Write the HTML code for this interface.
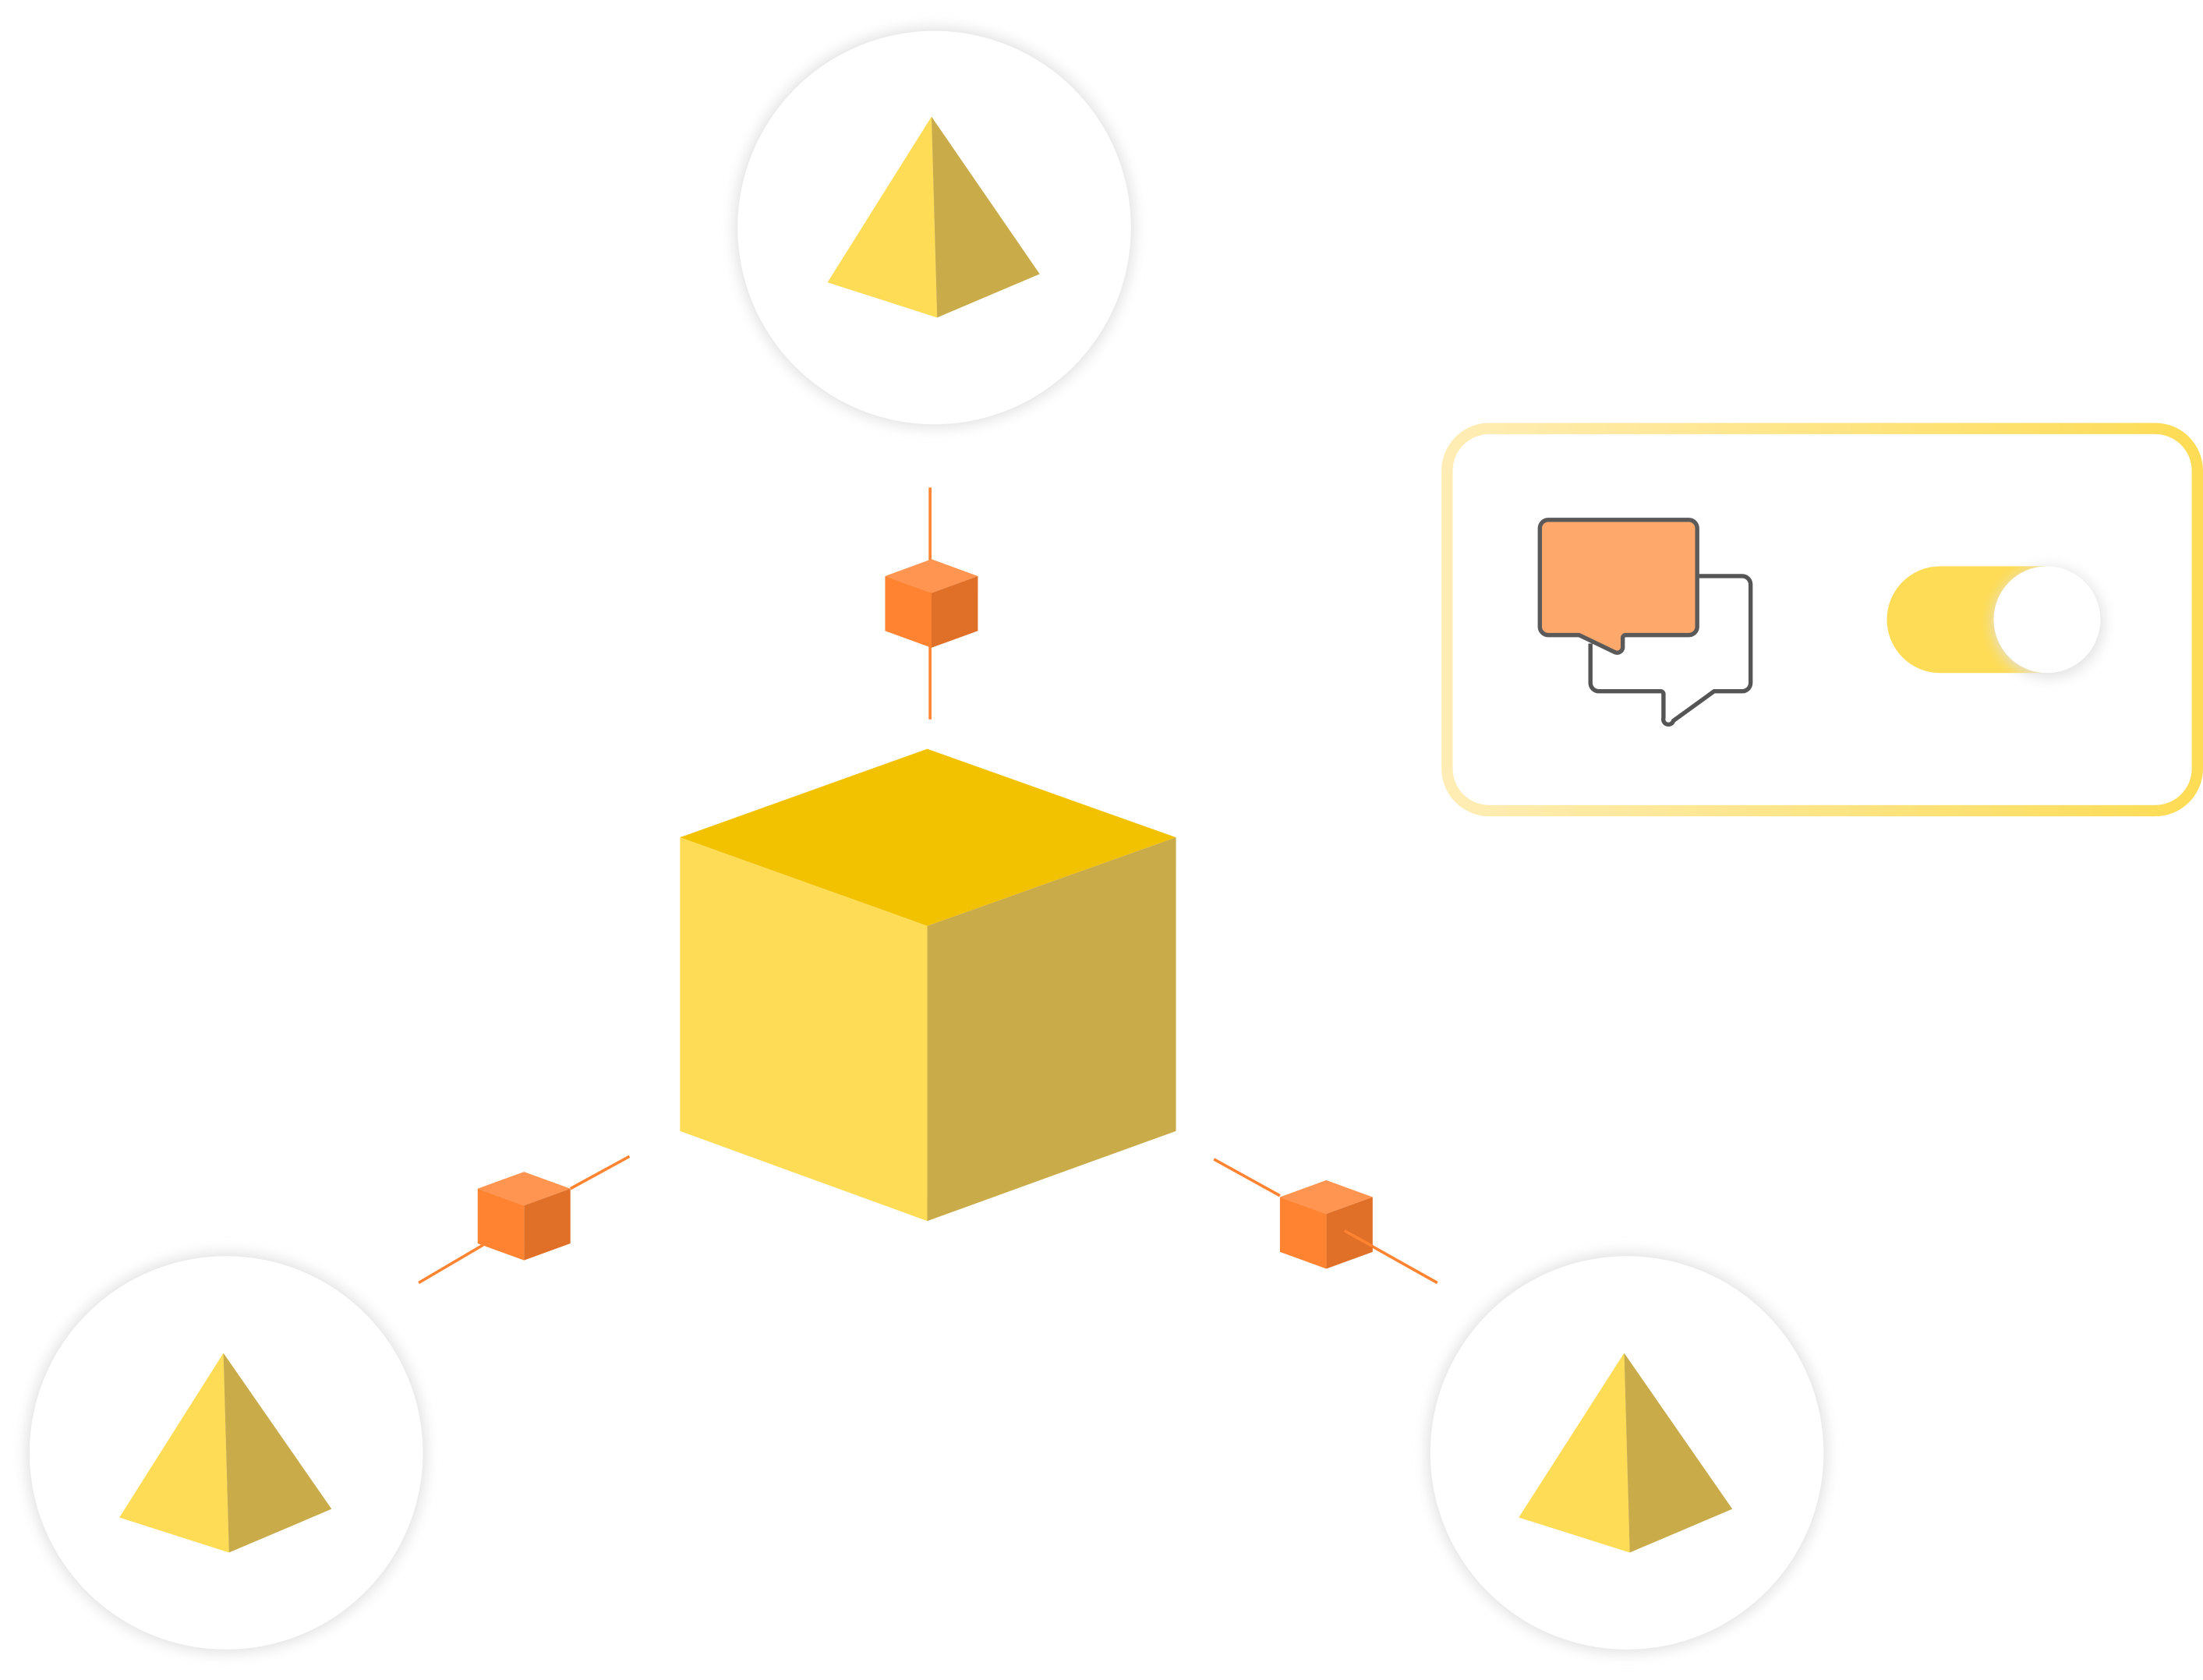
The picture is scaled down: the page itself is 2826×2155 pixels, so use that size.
<!DOCTYPE html>
<html><head><meta charset="utf-8"><style>
html,body{margin:0;padding:0;background:#fff;}
svg{display:block;width:2826px;height:2155px;}
</style></head><body>
<svg viewBox="0 0 1568 1195.7" preserveAspectRatio="none" xmlns="http://www.w3.org/2000/svg">
<defs>
<filter id="sh" x="-20%" y="-20%" width="140%" height="140%"><feGaussianBlur stdDeviation="5"/></filter>
<linearGradient id="bd" x1="0" x2="1" y1="0" y2="0"><stop offset="0" stop-color="#FFEDB5"/><stop offset="1" stop-color="#FEDC55"/></linearGradient>
</defs>
<g>
<circle cx="665" cy="162" r="142" fill="#e0e0e0" filter="url(#sh)"/>
<circle cx="665" cy="162" r="140" fill="#fff"/>
<circle cx="161" cy="1034" r="142" fill="#e0e0e0" filter="url(#sh)"/>
<circle cx="161" cy="1034" r="140" fill="#fff"/>
<circle cx="1158" cy="1034" r="142" fill="#e0e0e0" filter="url(#sh)"/>
<circle cx="1158" cy="1034" r="140" fill="#fff"/>
</g>
<polygon points="663,83 589,201 667,226" fill="#FEDC55"/><polygon points="663,83 667,226 740,195" fill="#C9AB4A"/>
<polygon points="159,963 85,1080 163,1105" fill="#FEDC55"/><polygon points="159,963 163,1105 236,1074" fill="#C9AB4A"/>
<polygon points="1156,963 1081,1080 1160,1105" fill="#FEDC55"/><polygon points="1156,963 1160,1105 1233,1074" fill="#C9AB4A"/>
<polygon points="484,596 660,533 837,596 660,659" fill="#F2C200"/>
<polygon points="484,596 660,659 660,869 484,805" fill="#FEDC55"/>
<polygon points="660,659 837,596 837,805 660,869" fill="#C9AB4A"/>
<g stroke="#FF8330" stroke-width="2">
<line x1="662" y1="347" x2="662" y2="512"/>
<line x1="298" y1="913" x2="344" y2="886"/>
<line x1="406" y1="846" x2="448" y2="823"/>
<line x1="864" y1="825" x2="911" y2="851"/>
<line x1="957" y1="876" x2="1023" y2="913"/>
</g>
<g>
<polygon points="630,410 663,398 696,410 663,422" fill="#FF9550"/>
<polygon points="630,410 663,422 663,461 630,449" fill="#FF8330"/>
<polygon points="663,422 696,410 696,449 663,461" fill="#E07028"/>
<polygon points="340,846 373,834 406,846 373,858" fill="#FF9550"/>
<polygon points="340,846 373,858 373,897 340,885" fill="#FF8330"/>
<polygon points="373,858 406,846 406,885 373,897" fill="#E07028"/>
<polygon points="911,852 944,840 977,852 944,864" fill="#FF9550"/>
<polygon points="911,852 944,864 944,903 911,891" fill="#FF8330"/>
<polygon points="944,864 977,852 977,891 944,903" fill="#E07028"/>
</g>
<line x1="957" y1="876" x2="977" y2="887" stroke="#FF8330" stroke-width="2"/>
<rect x="1030" y="305" width="534" height="272" rx="30" fill="#fff" stroke="url(#bd)" stroke-width="8"/>
<path d="M1209,410 H1240 a6,6 0 0 1 6,6 V486 a6,6 0 0 1 -6,6 H1220 L1191,513 a3,3 0 0 1 -7,-2 V494 a2,2 0 0 0 -2,-2 H1138 a6,6 0 0 1 -6,-6 V458" fill="#fff" stroke="#555" stroke-width="3" stroke-linejoin="round"/>
<path d="M1102,370 H1202 a6,6 0 0 1 6,6 V446 a6,6 0 0 1 -6,6 H1157 a2,2 0 0 0 -2,2 V461 a4,4 0 0 1 -6,3 L1124,452 H1102 a6,6 0 0 1 -6,-6 V376 a6,6 0 0 1 6,-6 Z" fill="#FFA86B" stroke="#5a5a5a" stroke-width="3" stroke-linejoin="round"/>
<path d="M1381,403 H1458 V479 H1381 a38,38 0 0 1 0,-76 Z" fill="#FEDC55"/>
<circle cx="1458" cy="443" r="39" fill="#e0e0e0" filter="url(#sh)"/>
<circle cx="1457" cy="441" r="38" fill="#fff"/>
</svg>
</body></html>
